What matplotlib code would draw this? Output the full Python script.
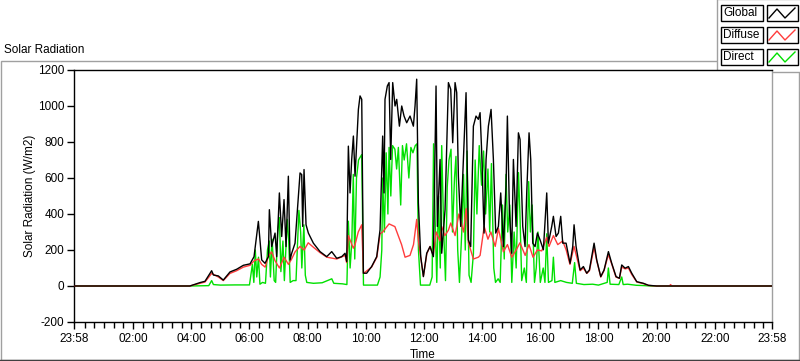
""" SOLAR RADIATION DAY PLOT """
import matplotlib
matplotlib.use('Agg')
import matplotlib.pyplot as plt
from matplotlib.patches import Rectangle
import numpy as np

plt.rcParams['font.family'] = ['Liberation Sans', 'DejaVu Sans']

# times in decimal hours, values in W/m2
global_t = [-0.033, 3.95, 4.30, 4.47, 4.70, 4.76, 4.93, 5.10, 5.33, 5.56, 5.79, 6.02,
            6.157, 6.306, 6.42, 6.535, 6.65, 6.684, 6.764, 6.879, 6.936, 7.028, 7.108,
            7.188, 7.257, 7.337, 7.395, 7.452, 7.567, 7.739, 7.796, 7.83, 7.876, 7.945,
            8.025, 8.197, 8.426, 8.655, 8.828, 9.0, 9.171, 9.286, 9.343, 9.40, 9.458,
            9.515, 9.573, 9.63, 9.745, 9.802, 9.86, 9.917, 10.03, 10.20, 10.375, 10.49,
            10.58, 10.627, 10.66, 10.74, 10.80, 10.856, 10.925, 11.005, 11.063, 11.155,
            11.235, 11.315, 11.406, 11.521, 11.636, 11.693, 11.75, 11.808, 11.888, 11.98,
            12.094, 12.209, 12.324, 12.415, 12.461, 12.553, 12.61, 12.725, 12.84, 12.92,
            12.988, 13.069, 13.126, 13.183, 13.264, 13.355, 13.447, 13.527, 13.607,
            13.699, 13.79, 13.87, 13.929, 13.986, 14.066, 14.135, 14.215, 14.307, 14.387,
            14.467, 14.559, 14.639, 14.731, 14.822, 14.868, 14.937, 15.017, 15.075,
            15.166, 15.247, 15.304, 15.396, 15.476, 15.533, 15.613, 15.671, 15.74, 15.82,
            15.9, 15.992, 16.106, 16.221, 16.278, 16.393, 16.45, 16.542, 16.622, 16.702,
            16.771, 16.886, 17.023, 17.115, 17.161, 17.23, 17.367, 17.482, 17.596,
            17.688, 17.849, 17.94, 18.078, 18.193, 18.342, 18.456, 18.605, 18.72, 18.80,
            18.915, 19.03, 19.144, 19.316, 19.545, 19.717, 20.0, 23.967]
global_v = [0, 0, 19, 26, 85, 61, 56, 33, 78, 93, 115, 123,
            163, 359, 145, 126, 163, 424, 219, 294, 163, 517, 275,
            480, 219, 610, 145, 182, 238, 628, 619, 331, 647, 340,
            294, 238, 191, 163, 191, 154, 163, 182, 136, 777, 517,
            703, 833, 610, 981, 1056, 1037, 71, 71, 108, 163, 312,
            833, 517, 1037, 1111, 1130, 703, 1130, 1000, 1037, 888,
            1000, 944, 907, 944, 888, 1000, 1149, 461, 163, 52,
            182, 219, 163, 1111, 331, 703, 182, 424, 1130, 1093,
            796, 1130, 1074, 610, 331, 703, 1074, 256, 219,
            888, 944, 926, 963, 740, 294, 703, 888, 981, 703,
            294, 331, 517, 219, 554, 944, 424, 182, 703,
            331, 851, 814, 331, 219, 517, 851, 703, 238, 219,
            294, 256, 201, 517, 238, 331, 387, 275, 294, 387,
            238, 238, 126, 219, 340, 219, 89, 108, 71,
            89, 238, 145, 52, 89, 191, 126, 52, 43, 117,
            99, 108, 71, 24, 15, 4, 0, 0]

diffuse_t = [-0.033, 3.95, 4.30, 4.47, 4.70, 4.93, 5.10, 5.33, 5.56, 5.79, 6.02, 6.16,
             6.31, 6.42, 6.54, 6.65, 6.76, 6.88, 7.03, 7.19, 7.34, 7.45, 7.57, 7.74,
             7.88, 8.02, 8.20, 8.43, 8.66, 9.0, 9.29, 9.34, 9.40, 9.57, 9.63, 9.74,
             9.86, 9.92, 10.2, 10.38, 10.49, 10.58, 10.8, 11.0, 11.23, 11.35, 11.52,
             11.64, 11.75, 11.81, 11.98, 12.1, 12.21, 12.32, 12.42, 12.55, 12.61, 12.72,
             12.84, 12.92, 13.07, 13.2, 13.36, 13.45, 13.53, 13.7, 13.87, 13.93, 14.07,
             14.2, 14.3, 14.45, 14.56, 14.73, 14.87, 15.02, 15.17, 15.3, 15.48, 15.61,
             15.75, 15.9, 16.05, 16.22, 16.3, 16.45, 16.6, 16.77, 16.89, 17.02, 17.16,
             17.37, 17.48, 17.6, 17.69, 17.85, 17.94, 18.08, 18.19, 18.34, 18.46, 18.6,
             18.72, 18.8, 18.92, 19.03, 19.14, 19.32, 19.55, 19.72, 20.0, 20.44, 20.48,
             20.52, 23.967]
diffuse_v = [0, 0, 15, 22, 70, 50, 30, 70, 85, 105, 115, 140,
             150, 120, 105, 165, 190, 140, 100, 160, 120, 150, 190, 220,
             200, 240, 215, 185, 160, 150, 170, 130, 280, 210, 230, 300,
             340, 70, 105, 160, 290, 300, 345, 330, 230, 160, 170,
             230, 370, 250, 55, 180, 220, 170, 300, 250, 330, 280,
             310, 350, 280, 400, 300, 430, 240, 150, 160, 170, 330,
             260, 300, 220, 320, 190, 230, 160, 200, 240, 170, 230,
             160, 200, 195, 270, 220, 280, 230, 250, 200, 120, 220,
             85, 100, 70, 85, 215, 140, 50, 85, 175, 120, 50,
             42, 105, 95, 100, 65, 22, 13, 3, 0, 0, 8,
             0, 0]

direct_t = [-0.033, 3.95, 4.6, 4.7, 4.76, 5.0, 5.5, 6.0, 6.1, 6.15, 6.2, 6.25, 6.31,
            6.36, 6.45, 6.55, 6.62, 6.68, 6.72, 6.78, 6.85, 6.9, 6.97, 7.03, 7.08, 7.15,
            7.2, 7.3, 7.35, 7.4, 7.5, 7.6, 7.7, 7.76, 7.8, 7.87, 7.92, 7.97, 8.2, 8.5,
            8.83, 8.9, 9.2, 9.35, 9.40, 9.46, 9.52, 9.57, 9.62, 9.68, 9.75, 9.86, 9.92,
            10.4, 10.49, 10.55, 10.58, 10.64, 10.7, 10.76, 10.8, 10.86, 10.92, 11.0,
            11.06, 11.12, 11.2, 11.26, 11.32, 11.4, 11.48, 11.55, 11.62, 11.7, 11.76,
            11.81, 11.88, 12.2, 12.28, 12.33, 12.38, 12.44, 12.5, 12.56, 12.61, 12.68,
            12.74, 12.8, 12.86, 12.93, 12.98, 13.05, 13.1, 13.16, 13.22, 13.3, 13.36,
            13.42, 13.48, 13.55, 13.62, 13.7, 13.76, 13.82, 13.9, 13.98, 14.05, 14.12,
            14.2, 14.26, 14.32, 14.4, 14.46, 14.55, 14.62, 14.7, 14.76, 14.82, 14.88,
            14.95, 15.02, 15.1, 15.17, 15.25, 15.3, 15.36, 15.45, 15.52, 15.6, 15.66,
            15.72, 15.8, 15.86, 15.92, 16.0, 16.1, 16.16, 16.22, 16.28, 16.4, 16.45,
            16.5, 16.7, 16.9, 17.1, 17.18, 17.24, 17.5, 17.8, 18.0, 18.3, 18.34, 18.4,
            18.7, 18.8, 18.85, 19.0, 19.3, 19.6, 19.8, 20.0, 23.967]
direct_v = [0, 0, 2, 30, 8, 5, 6, 6, 120, 20, 200, 50, 160,
            10, 20, 15, 200, 250, 50, 260, 30, 20, 300, 380, 80, 250,
            30, 370, 250, 20, 30, 30, 420, 300, 100, 340, 60, 20, 15, 18,
            40, 15, 12, 8, 360, 100, 250, 620, 150, 600, 700, 730, 5,
            5, 50, 200, 600, 300, 740, 400, 770, 500, 780, 760,
            650, 770, 450, 780, 700, 790, 600, 770, 740, 780, 790,
            200, 5, 5, 50, 790, 400, 20, 500, 100, 780, 300,
            30, 550, 700, 760, 300, 600, 720, 200, 20, 300, 620,
            200, 750, 60, 20, 180, 700, 400, 780, 560, 750, 400,
            650, 300, 680, 100, 20, 40, 20, 450, 150, 620, 300,
            450, 20, 300, 100, 630, 400, 30, 100, 20, 580, 300,
            450, 20, 100, 300, 20, 100, 20, 290, 20, 30, 160,
            20, 30, 20, 15, 130, 15, 8, 10, 5, 20, 100, 10,
            8, 50, 8, 10, 4, 2, 0, 0, 0]

series_names = ['Global', 'Diffuse', 'Direct']
series_colors = ['#000000', '#ff3c3c', '#00e000']

hour_ticks = [-2/60, 2, 4, 6, 8, 10, 12, 14, 16, 18, 20, 22, 24 - 2/60]
hour_labels = ['23:58', '02:00', '04:00', '06:00', '08:00', '10:00', '12:00',
               '14:00', '16:00', '18:00', '20:00', '22:00', '23:58']
y_ticks = [-200, 0, 200, 400, 600, 800, 1000, 1200]

W, H = 800, 361
fig = plt.figure(figsize=(W / 100, H / 100), dpi=100)

# frame / panel decorations in pixel coords
deco = fig.add_axes([0, 0, 1, 1])
deco.set_xlim(0, W)
deco.set_ylim(H, 0)
deco.axis('off')
deco.add_patch(Rectangle((0.5, 61), 798, 298.5, fill=False, ec='#a0a0a0', lw=1))
deco.plot([0, 800], [359.5, 359.5], color='#404040', lw=1)
deco.text(4, 50, 'Solar Radiation', fontsize=8.5, va='center', ha='left')

ax = fig.add_axes([74 / W, 1 - 322 / H, 698 / W, 252 / H])
ax.plot(direct_t, direct_v, color=series_colors[2], lw=1.0, zorder=2)
ax.plot(diffuse_t, diffuse_v, color=series_colors[1], lw=1.0, zorder=3)
ax.plot(global_t, global_v, color=series_colors[0], lw=1.0, zorder=4)

ax.set_xlim(-2/60, 24 - 2/60)
ax.set_ylim(-200, 1200)
ax.set_xticks(hour_ticks)
ax.set_xticklabels(hour_labels, fontsize=8.5)
ax.set_xticks([m / 3 for m in range(1, 72) if m % 6 != 0], minor=True)
ax.set_yticks(y_ticks)
ax.set_yticklabels([str(v) for v in y_ticks], fontsize=8.5)
ax.tick_params(axis='x', which='major', length=5, width=1, pad=3)
ax.tick_params(axis='x', which='minor', length=4, width=1)
ax.tick_params(axis='y', length=5, width=1, pad=2)
for s in ['left', 'bottom', 'top']:
    ax.spines[s].set_color('black')
    ax.spines[s].set_linewidth(1)
ax.spines['right'].set_color('#a0a0a0')
ax.spines['right'].set_linewidth(1)
ax.set_xlabel('Time', fontsize=8.5, labelpad=3)
ax.set_ylabel('Solar Radiation (W/m2)', fontsize=8.5, labelpad=1)

# legend panel at top right
deco.add_patch(Rectangle((717, -1), 84, 73, fc='white', ec='#a0a0a0', lw=1, zorder=5))
row_y = [13, 35, 57]
for name, col, yy in zip(series_names, series_colors, row_y):
    deco.add_patch(Rectangle((721, yy - 8), 42, 16, fc='white', ec='black', lw=1, zorder=6))
    deco.text(723, yy, name, fontsize=8.5, va='center', ha='left', zorder=7)
    deco.add_patch(Rectangle((767, yy - 8), 31, 16, fc='white', ec='black', lw=1, zorder=6))
    deco.plot([769, 777, 785, 795], [yy + 5, yy - 4, yy + 5, yy - 5], color=col, lw=1, zorder=7)

fig.savefig('out.png', dpi=100)
